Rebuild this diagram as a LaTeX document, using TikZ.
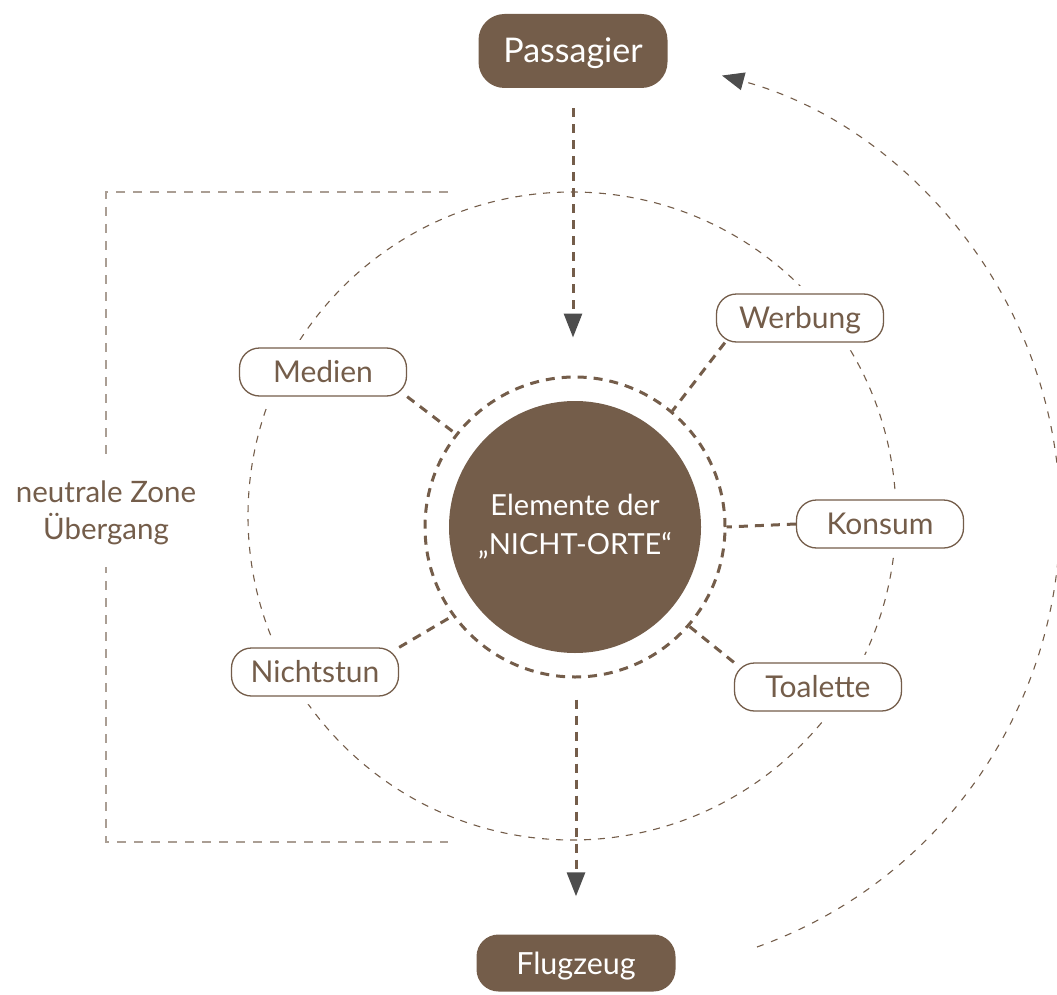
\documentclass[tikz,border=0pt]{standalone}
\usepackage{fontspec}
\setmainfont{Lato}
\usetikzlibrary{arrows.meta, positioning}

\definecolor{placebrown}{HTML}{745D4A}
\definecolor{headgray}{HTML}{4D4D4D}
\definecolor{zonegray}{HTML}{AA9E94}

\begin{document}
\begin{tikzpicture}[
  x=1pt, y=-1pt,
  every node/.style={font=\fontsize{29.5}{37}\selectfont, text=placebrown},
  endpoint/.style={rectangle, rounded corners=26pt, fill=placebrown, text=white, minimum width=189pt, minimum height=74pt, inner sep=0pt},
  element/.style={rectangle, rounded corners=20pt, draw=placebrown, line width=1.3pt, fill=white, minimum width=167pt, minimum height=48pt, inner sep=0pt, font=\fontsize{30}{36}\selectfont, text height=21.5pt, text depth=0pt, preaction={draw=white, line width=16pt}},
  link/.style={draw=placebrown, line width=3pt, dash pattern=on 9pt off 7pt},
  flow/.style={link, -{Triangle[length=24pt, width=18pt, color=headgray]}},
  thinline/.style={draw=placebrown, line width=1.1pt, dash pattern=on 7pt off 7pt},
  zoneline/.style={draw=zonegray, line width=1.5pt, dash pattern=on 9pt off 8pt}
]
\useasboundingbox (0,0) rectangle (1057,995);

% outer zone and bracket
\draw[thinline] (572,516) circle[radius=324];
\draw[zoneline] (448,192) -- (106,192) -- (106,842) -- (448,842);
\node[fill=white, align=center, minimum height=107pt] (zone) at (106,513) {neutrale Zone\\Übergang};

% loop back from Flugzeug to Passagier
\coordinate (loopstart) at (757,947);
\draw[thinline, dash pattern=on 7pt off 8pt, -{Triangle[length=22pt, width=18pt, color=headgray]}]
  (loopstart) arc[start angle=70.3, end angle=-74.9, radius=457];

% centre
\node[circle, draw=placebrown, line width=3pt, dash pattern=on 9pt off 7pt, minimum size=300pt, inner sep=0pt] (ring) at (575,527) {};
\node[circle, fill=placebrown, minimum size=252pt, inner sep=0pt, text=white, align=center, font=\fontsize{29}{39}\selectfont] (core) at (575,527) {Elemente der\\„NICHT-ORTE“};

% start and end
\node[endpoint, font=\fontsize{34}{40}\selectfont, text height=24pt, text depth=0pt] (passagier) at (573,51) {Passagier};
\node[endpoint, minimum width=199pt, minimum height=57pt, rounded corners=22pt, font=\fontsize{30.5}{36}\selectfont, text height=22pt, text depth=0pt] (flugzeug) at (576,963) {Flugzeug};

% elements
\node[element] (werbung) at (800,318) {Werbung};
\node[element] (medien) at (323,372) {Medien};
\node[element] (konsum) at (880,524) {Konsum};
\node[element] (toalette) at (818,687) {Toalette};
\node[element] (nichtstun) at (315,672) {Nichtstun};

\draw[link] (medien.south east) -- (ring.142);
\draw[link] ([xshift=9pt]werbung.south west) -- (ring.50);
\draw[link] (konsum.west) -- (ring.east);
\draw[link] (toalette.north west) -- (ring.-41);
\draw[link] (nichtstun.north east) -- (ring.216);

% way through
\draw[flow, shorten <=20pt, shorten >=38pt] (passagier.south) -- (passagier.south |- ring.north);
\draw[flow, shorten <=21pt, shorten >=38pt] (ring.south -| flugzeug.north) -- (flugzeug.north);

\end{tikzpicture}
\end{document}
